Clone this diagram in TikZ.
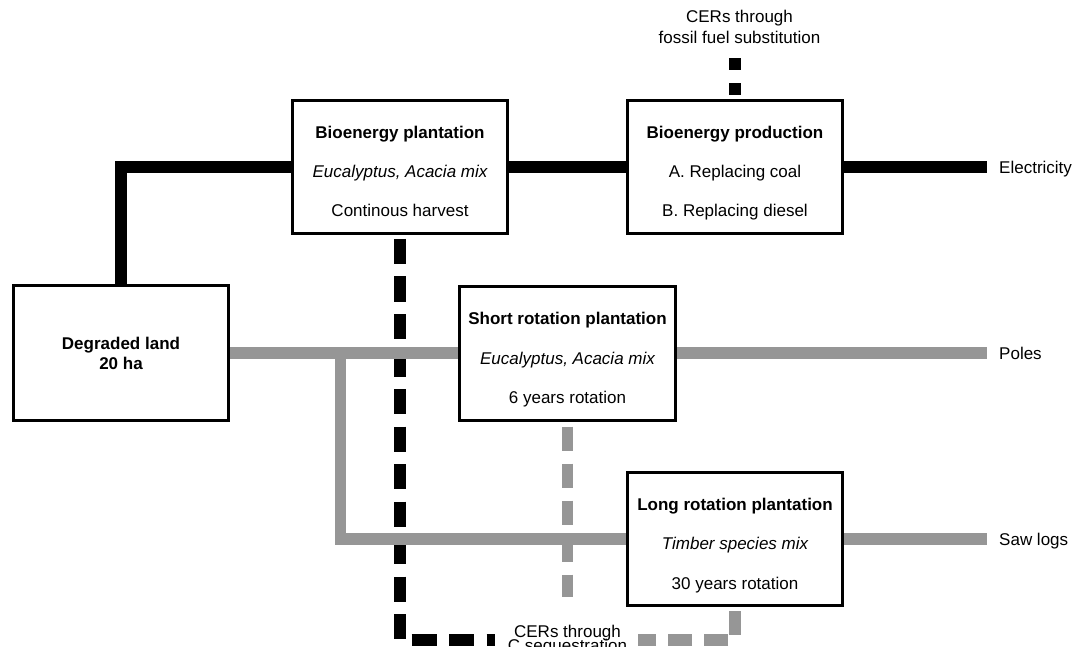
\documentclass[tikz,border=0pt]{standalone}
\usepackage{fontspec}
\setmainfont{Liberation Sans}
\definecolor{flowgray}{RGB}{150,150,150}
\begin{document}
\begin{tikzpicture}[x=1pt,y=-1pt,
  box/.style={draw=black, line width=3pt, fill=white, minimum width=215pt, minimum height=133pt, inner sep=0pt},
  lbl/.style={font=\fontsize{17}{20}\selectfont, inner sep=0pt, anchor=base},
  title/.style={lbl, font=\fontsize{17}{20}\selectfont\bfseries},
  sub/.style={lbl, font=\fontsize{17}{20}\selectfont\itshape},
  outlbl/.style={font=\fontsize{17}{20}\selectfont, inner sep=0pt, anchor=base west},
  blk/.style={line width=11.5pt, draw=black},
  gry/.style={line width=11.5pt, draw=flowgray},
  blkdash/.style={blk, dash pattern=on 25pt off 12.5pt, dash phase=33.5pt},
  grydash/.style={gry, dash pattern=on 24pt off 12pt, dash phase=32pt},
  srdash/.style={gry, dash pattern=on 24pt off 13pt, dash phase=32pt},
  topdash/.style={blk, dash pattern=on 12pt off 13pt, dash phase=21pt}]
\useasboundingbox (0,0) rectangle (1074,647);

% boxes
\node[box] (bp) at (400,167) {};
\node[box] (bprod) at (735,167) {};
\node[box, minimum height=135pt] (dl) at (121,353) {};
\node[box, minimum width=216pt, minimum height=134pt] (sr) at (567.5,353) {};
\node[box] (lr) at (735,539) {};

% box texts
\node[title] (bpA) at ([yshift=28pt]bp.center) {Bioenergy plantation};
\node[sub]   (bpB) at ([yshift=-11pt]bp.center) {Eucalyptus, Acacia mix};
\node[lbl]   (bpC) at ([yshift=-50pt]bp.center) {Continous harvest};

\node[title] (bprodA) at ([yshift=28pt]bprod.center) {Bioenergy production};
\node[lbl]   (bprodB) at ([yshift=-11pt]bprod.center) {A. Replacing coal};
\node[lbl]   (bprodC) at ([yshift=-50pt]bprod.center) {B. Replacing diesel};

\node[title] (dlA) at ([yshift=4pt]dl.center) {Degraded land};
\node[title] (dlB) at ([yshift=-16pt]dl.center) {20 ha};

\node[title] (srA) at ([yshift=28.5pt]sr.center) {Short rotation plantation};
\node[sub]   (srB) at ([yshift=-11.5pt]sr.center) {Eucalyptus, Acacia mix};
\node[lbl]   (srC) at ([yshift=-50.5pt]sr.center) {6 years rotation};

\node[title] (lrA) at ([yshift=29pt]lr.center) {Long rotation plantation};
\node[sub]   (lrB) at ([yshift=-10pt]lr.center) {Timber species mix};
\node[lbl]   (lrC) at ([yshift=-50pt]lr.center) {30 years rotation};

% free ends
\coordinate (elecEnd) at (987,167);
\coordinate (polesEnd) at (987,353);
\coordinate (sawEnd) at (987,539);
\coordinate (branch) at (340.5,353);
\coordinate (cornerA) at (400,640);
\coordinate (blkEnd) at (495,640);
\coordinate (cornerB) at (735,640);
\coordinate (gryEnd) at (638,640);
\coordinate (srDashEnd) at (567.5,597);
\coordinate (topDashEnd) at (735,58);

% outside labels
\node[outlbl] (elec) at (999,173.5) {Electricity};
\node[outlbl] (poles) at (999,359) {Poles};
\node[outlbl] (saw) at (999,545) {Saw logs};
\node[lbl] (cerTopA) at (739.5,23) {CERs through};
\node[lbl] (cerTopB) at (739.5,44) {fossil fuel substitution};
\node[lbl] (cerBotA) at (567.5,637) {CERs through};
\node[lbl] (cerBotB) at (567.5,651) {C sequestration};

% black connectors
\draw[blk] (dl.north) |- (bp.west);
\draw[blk] (bp.east) -- (bprod.west);
\draw[blk] (bprod.east) -- (elecEnd);
\draw[topdash] (bprod.north) -- (topDashEnd);
\draw[blkdash] (bp.south) -- (cornerA) -- (blkEnd);

% gray connectors
\draw[gry] (dl.east) -- (sr.west);
\draw[gry] (branch) |- (lr.west);
\draw[gry] (sr.east) -- (polesEnd);
\draw[gry] (lr.east) -- (sawEnd);
\draw[srdash] (sr.south) -- (srDashEnd);
\draw[grydash] (lr.south) -- (cornerB) -- (gryEnd);
\end{tikzpicture}
\end{document}
